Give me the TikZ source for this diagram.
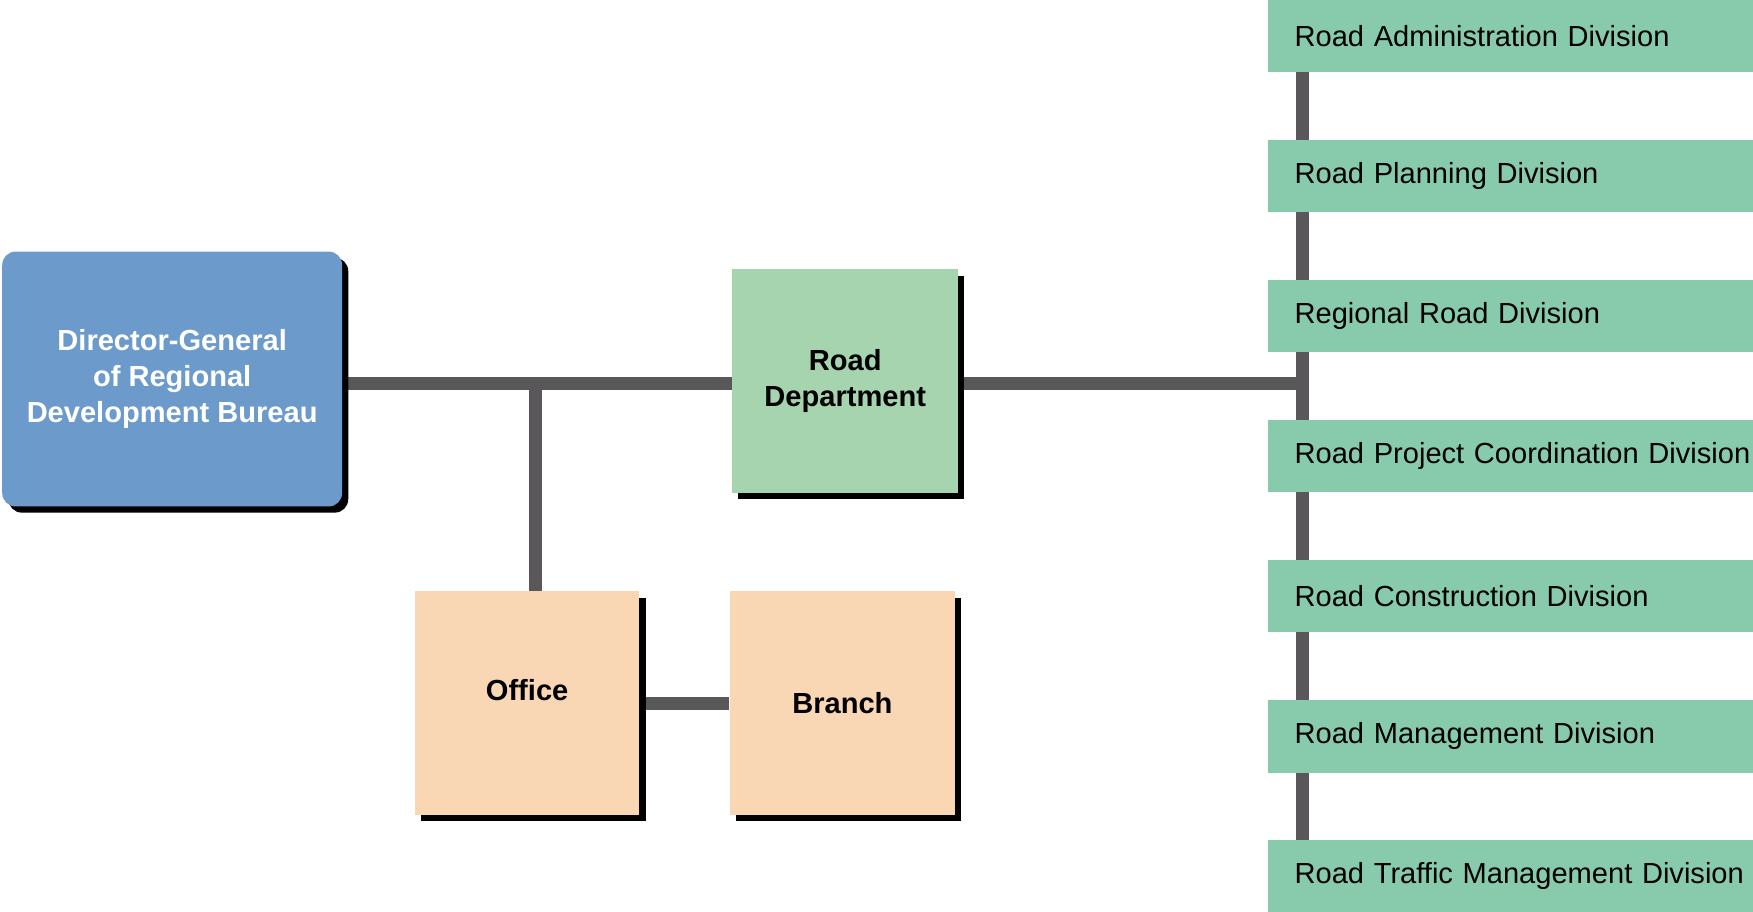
\documentclass[tikz,border=0pt]{standalone}
\usepackage{fontspec}
\setmainfont{Liberation Sans}
\usetikzlibrary{positioning,shadows,backgrounds}

\definecolor{bureaublue}{HTML}{6C9BCB}
\definecolor{deptgreen}{HTML}{A6D4AE}
\definecolor{localpeach}{HTML}{F9D7B5}
\definecolor{divgreen}{HTML}{87CBAC}
\definecolor{linkgray}{HTML}{59575A}

\begin{document}
\begin{tikzpicture}[
		x=0.1mm, y=-0.1mm,
		align=center,
		font=\fontsize{7.4}{9.1}\selectfont,
		shadowit/.style={
				drop shadow={shadow xshift=0.55mm, shadow yshift=-0.55mm, fill=black, opacity=1}
			},
		head/.style={rectangle, fill=bureaublue, rounded corners=1.2mm, shadowit,
				minimum width=30.4mm, minimum height=22.8mm, text=white,
				font=\fontsize{7.4}{9.1}\selectfont\bfseries},
		dept/.style={rectangle, fill=deptgreen, shadowit,
				minimum width=20.2mm, minimum height=20mm,
				font=\fontsize{7.4}{9.1}\selectfont\bfseries},
		local/.style={rectangle, fill=localpeach, shadowit,
				minimum width=20.1mm, minimum height=20mm,
				font=\fontsize{7.4}{9.1}\selectfont\bfseries},
		division/.style={rectangle, fill=divgreen, anchor=west, outer sep=0pt,
				minimum height=6.5mm, text width=42mm, inner xsep=2.4mm, align=left},
		link/.style={draw=linkgray, line width=1.2mm}
	]
	\useasboundingbox (0,0) rectangle (1568,815);

	\node[head] (director) at (154,339) {Director-General\\of Regional\\Development Bureau};
	\node[dept] (roaddept) at (756,341) {Road\\Department};
	\node[local, text depth=2.4mm] (office) at (471.5,629) {Office};
	\node[local] (branch) at (753.5,629) {Branch};

	\node[division] (admin) at (1134,32) {Road Administration Division};
	\node[division, below=6.03mm of admin] (planning) {Road Planning Division};
	\node[division, below=6.03mm of planning] (regional) {Regional Road Division};
	\node[division, below=6.03mm of regional] (project) {Road Project Coordination Division};
	\node[division, below=6.03mm of project] (construction) {Road Construction Division};
	\node[division, below=6.03mm of construction] (management) {Road Management Division};
	\node[division, below=6.03mm of management] (traffic) {Road Traffic Management Division};

	\coordinate (tee) at (479,343);
	\coordinate (spine) at (1165,343);

	\begin{scope}[on background layer]
		\draw[link] (director.east |- tee) -- (tee) -- (roaddept.west |- tee);
		\draw[link] (tee) -- (tee |- office.north);
		\draw[link] (office) -- (branch);
		\draw[link] (roaddept.east |- spine) -- (spine);
		\draw[link] (spine |- admin) -- (spine |- traffic);
	\end{scope}
\end{tikzpicture}
\end{document}
